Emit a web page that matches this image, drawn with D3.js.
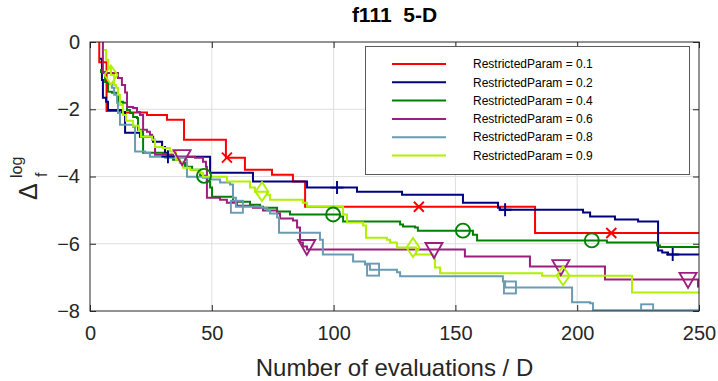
<!DOCTYPE html>
<html>
<head>
<meta charset="utf-8">
<script src="https://cdn.jsdelivr.net/npm/d3@7/dist/d3.min.js"></script>
<style>
  html, body { margin: 0; padding: 0; background: #fff; }
  svg { display: block; font-family: "Liberation Sans", Arial, Helvetica, sans-serif; }
</style>
</head>
<body>
<svg id="chart" width="718" height="381"></svg>
<script>
// ---- data: best-so-far log10 precision per run length (step functions) ----
const labels = ["RestrictedParam = 0.1", "RestrictedParam = 0.2", "RestrictedParam = 0.4",
                "RestrictedParam = 0.6", "RestrictedParam = 0.8", "RestrictedParam = 0.9"];
const colors = ["#ff0000", "#000080", "#008000", "#9c1f80", "#6a9bb3", "#b0f000"];
const markerKinds = ["x", "plus", "circle", "triDown", "square", "diamond"];

const redX = [3.0, 3.8, 6.8, 12.0, 23.4, 31.6, 38.6, 55.8, 63.6, 74.7, 83.3, 88.3, 182.7];
const redY = [0.3, -0.6, -2.05, -2.1, -2.17, -2.31, -2.91, -3.44, -3.8, -3.95, -4.15, -4.9, -5.68];

const blueX = [4.1, 4.9, 5.3, 6.6, 7.4, 13.1, 14.4, 20.5, 25.9, 29.6, 30.8, 32.0, 49.3, 66.9, 89.1,
               109.6, 128.1, 153.1, 167.5, 168.3, 202.4, 205.3, 215.5, 225.0, 233.2, 234.9, 237.3];
const blueY = [-0.50, -1.13, -1.66, -1.78, -2.02, -2.08, -2.70, -2.82, -2.97, -3.12, -3.29, -3.41, -3.89, -4.15, -4.33,
               -4.45, -4.54, -4.78, -4.93, -4.99, -5.07, -5.19, -5.28, -5.34, -6.20, -6.26, -6.32];

const greenX = [4.1, 4.5, 6.2, 7.4, 9.0, 11.1, 11.5, 13.5, 15.2, 16.4, 17.7, 19.3, 19.7, 21.3, 21.8,
                30.0, 31.6, 34.1, 36.9, 39.0, 41.9, 45.2, 48.0, 49.3, 50.1, 58.7, 65.7, 69.8, 71.0, 76.8,
                82.1, 102.6, 103.9, 127.3, 128.5, 133.4, 134.6, 157.2, 158.9, 212.2, 232.8, 234.0];
const greenY = [-0.83, -0.89, -1.19, -1.48, -1.51, -1.57, -1.78, -1.81, -2.02, -2.11, -2.23, -2.26, -2.61, -2.67, -3.29,
                -3.32, -3.35, -3.50, -3.59, -3.71, -3.80, -3.98, -4.15, -4.33, -4.60, -4.75, -4.84, -4.90, -4.93, -5.04,
                -5.13, -5.19, -5.34, -5.43, -5.49, -5.52, -5.61, -5.73, -5.90, -5.96, -6.05, -6.10];

const purpleX = [4.9, 5.3, 11.5, 13.1, 14.4, 15.2, 17.7, 19.3, 20.5, 21.8, 23.4, 24.6, 25.5, 26.7, 33.7,
                 43.1, 46.4, 47.6, 48.0, 53.4, 56.2, 60.3, 66.9, 71.0, 76.8, 78.0, 83.3, 85.0, 86.2, 87.4,
                 89.1, 153.9, 180.6, 211.4, 249.6];
const purpleY = [0.3, -0.92, -1.07, -1.28, -1.5, -1.93, -1.96, -2.08, -2.17, -2.61, -2.67, -2.76, -2.91, -3.35, -3.41,
                 -3.44, -3.56, -3.71, -4.63, -4.69, -4.78, -4.87, -4.93, -5.01, -5.10, -5.25, -5.31, -5.52, -5.96, -6.08,
                 -6.17, -6.38, -6.68, -7.06, -7.27];

const steelX = [7.8, 9.0, 9.9, 11.1, 11.5, 12.3, 17.7, 18.5, 22.6, 24.6, 30.8, 39.0, 39.8, 46.4, 49.3,
                53.4, 57.5, 58.7, 59.9, 70.6, 72.7, 73.9, 76.8, 77.6, 94.4, 95.6, 108.0, 112.9, 114.9, 126.0,
                127.3, 169.5, 170.4, 197.9, 205.3, 206.5];
const steelY = [-1.25, -1.36, -1.57, -1.81, -2.11, -2.46, -2.52, -3.26, -3.29, -3.41, -3.44, -3.50, -4.01, -4.04, -4.09,
                -4.18, -4.24, -4.63, -4.90, -4.93, -5.01, -5.10, -5.22, -5.67, -5.88, -6.32, -6.53, -6.62, -6.77, -6.85,
                -6.97, -7.12, -7.30, -7.74, -7.77, -7.98];

const limeX = [5.7, 6.6, 7.4, 8.6, 9.9, 10.7, 11.5, 12.3, 13.5, 14.8, 17.7, 20.1, 20.9, 25.5, 26.7,
               30.0, 32.8, 35.3, 36.9, 38.2, 41.1, 45.2, 46.4, 56.2, 65.7, 67.7, 72.7, 73.9, 87.4, 89.1,
               103.9, 105.5, 112.1, 113.3, 121.9, 123.2, 126.0, 133.8, 140.8, 141.6, 143.7, 185.6, 222.5];
const limeY = [-0.24, -0.53, -0.77, -0.98, -1.28, -1.36, -1.57, -1.87, -2.17, -2.34, -2.49, -2.64, -2.82, -2.91, -3.12,
               -3.15, -3.26, -3.50, -3.59, -3.74, -3.80, -3.89, -4.01, -4.15, -4.33, -4.45, -4.54, -4.69, -4.78, -4.90,
               -5.13, -5.37, -5.46, -5.82, -5.88, -5.96, -6.11, -6.32, -6.38, -6.71, -6.88, -6.95, -7.45];

// marker abscissae along each curve
const redMarks = [56.2, 135.0, 214.0];
const blueMarks = [32.0, 101.4, 170.4, 239.2];
const greenMarks = [46.8, 99.8, 153.1, 206.0];
const purpleMarks = [37.8, 89.0, 141.2, 193.3, 245.5];
const steelMarks = [60.3, 116.2, 172.4, 228.7];
const limeMarks = [8.6, 70.6, 132.6, 194.2];

const xTicks = [0, 50, 100, 150, 200, 250];
const yTicks = [0, -2, -4, -6, -8];
const xMax = 250;

const seriesX = [redX, blueX, greenX, purpleX, steelX, limeX];
const seriesY = [redY, blueY, greenY, purpleY, steelY, limeY];
const seriesMarks = [redMarks, blueMarks, greenMarks, purpleMarks, steelMarks, limeMarks];

// ---- layout ----
const svg = d3.select("#chart");
const plotL = 90, plotR = 699, plotT = 42, plotB = 311;
const x = d3.scaleLinear().domain([0, 250]).range([plotL, plotR]);
const y = d3.scaleLinear().domain([-8, 0]).range([plotB, plotT]);
const axisColor = "#262626";

svg.append("defs").append("clipPath").attr("id", "plotClip")
  .append("rect").attr("x", plotL).attr("y", plotT).attr("width", plotR - plotL).attr("height", plotB - plotT);

// grid
const grid = svg.append("g").attr("stroke", "#dedede").attr("stroke-width", 1);
xTicks.slice(1, -1).forEach(t => grid.append("line")
  .attr("x1", x(t)).attr("x2", x(t)).attr("y1", plotT).attr("y2", plotB));
yTicks.slice(1, -1).forEach(t => grid.append("line")
  .attr("x1", plotL).attr("x2", plotR).attr("y1", y(t)).attr("y2", y(t)));

// axes with inward ticks on all four sides
const tickLen = 6;
const axB = svg.append("g").attr("transform", `translate(0,${plotB})`)
  .call(d3.axisBottom(x).tickValues(xTicks).tickSizeInner(-tickLen).tickSizeOuter(0).tickPadding(15));
const axT = svg.append("g").attr("transform", `translate(0,${plotT})`)
  .call(d3.axisTop(x).tickValues(xTicks).tickSizeInner(-tickLen).tickSizeOuter(0).tickFormat(""));
const axL = svg.append("g").attr("transform", `translate(${plotL},0)`)
  .call(d3.axisLeft(y).tickValues(yTicks).tickSizeInner(-tickLen).tickSizeOuter(0).tickPadding(10));
const axR = svg.append("g").attr("transform", `translate(${plotR},0)`)
  .call(d3.axisRight(y).tickValues(yTicks).tickSizeInner(-tickLen).tickSizeOuter(0).tickFormat(""));
[axB, axT, axL, axR].forEach(a => {
  a.select(".domain").remove();
  a.selectAll(".tick line").attr("stroke", axisColor);
  a.selectAll("text").attr("fill", axisColor).attr("font-size", 20)
    .attr("font-family", "'Liberation Sans', Arial, sans-serif");
});
axB.selectAll("text").attr("dy", "0.71em");

// series
const plot = svg.append("g").attr("clip-path", "url(#plotClip)");
const line = d3.line().x(d => x(d[0])).y(d => y(d[1])).curve(d3.curveStepAfter);

function valueAt(xs, ys, v) {
  let k = 0;
  for (let i = 0; i < xs.length; i++) if (xs[i] <= v) k = i;
  return ys[k];
}

function drawMarker(g, kind, cx, cy, color) {
  const s = g.append("g").attr("transform", `translate(${cx},${cy})`)
    .attr("fill", "none").attr("stroke", color).attr("stroke-width", 1.9);
  if (kind === "x") {
    const r = 5;
    s.append("path").attr("d", `M${-r},${-r}L${r},${r}M${-r},${r}L${r},${-r}`);
  } else if (kind === "plus") {
    const r = 6.5;
    s.append("path").attr("d", `M${-r},0L${r},0M0,${-r}L0,${r}`);
  } else if (kind === "circle") {
    s.append("circle").attr("r", 7);
  } else if (kind === "triDown") {
    s.append("path").attr("d", "M-8.5,-6.5L8.5,-6.5L0,8.5Z");
  } else if (kind === "square") {
    s.append("rect").attr("x", -6).attr("y", -6).attr("width", 12).attr("height", 12);
  } else if (kind === "diamond") {
    s.append("path").attr("d", "M0,-9.5L6.5,0L0,9.5L-6.5,0Z");
  }
}

seriesX.forEach((xs, i) => {
  const pts = xs.map((v, j) => [v, seriesY[i][j]]);
  pts.push([xMax, seriesY[i][seriesY[i].length - 1]]);
  plot.append("path").datum(pts)
    .attr("fill", "none").attr("stroke", colors[i]).attr("stroke-width", 2)
    .attr("d", line);
});
seriesX.forEach((xs, i) => {
  seriesMarks[i].forEach(m => drawMarker(plot, markerKinds[i], x(m), y(valueAt(xs, seriesY[i], m)), colors[i]));
});

// box
svg.append("rect").attr("x", plotL).attr("y", plotT).attr("width", plotR - plotL).attr("height", plotB - plotT)
  .attr("fill", "none").attr("stroke", axisColor).attr("stroke-width", 1);

// legend
const lg = svg.append("g");
lg.append("rect").attr("x", 365.5).attr("y", 46.5).attr("width", 324).attr("height", 128)
  .attr("fill", "#fff").attr("stroke", "#5a5a5a").attr("stroke-width", 1);
labels.forEach((t, i) => {
  const yy = 64 + i * 18.3;
  lg.append("line").attr("x1", 392).attr("x2", 446).attr("y1", yy).attr("y2", yy)
    .attr("stroke", colors[i]).attr("stroke-width", 2);
  lg.append("text").attr("x", 473).attr("y", yy).attr("dy", "0.35em")
    .attr("font-size", 12).attr("fill", "#000").text(t);
});

// title
svg.append("text").attr("x", (plotL + plotR) / 2).attr("y", 22).attr("text-anchor", "middle")
  .attr("font-size", 21).attr("font-weight", "bold").attr("fill", "#000")
  .attr("xml:space", "preserve").text("f111  5-D");

// x label
svg.append("text").attr("x", (plotL + plotR) / 2).attr("y", 376).attr("text-anchor", "middle")
  .attr("font-size", 24).attr("fill", axisColor).text("Number of evaluations / D");

// y label: Delta_f^log, rotated
const yl = svg.append("g").attr("transform", "translate(37,200) rotate(-90)").attr("fill", axisColor);
yl.append("text").attr("x", 0).attr("y", 0).attr("font-size", 25).text("Δ");
yl.append("text").attr("x", 23).attr("y", 10).attr("font-size", 16).text("f");
yl.append("text").attr("x", 22).attr("y", -15).attr("font-size", 16).text("log");
</script>
</body>
</html>
